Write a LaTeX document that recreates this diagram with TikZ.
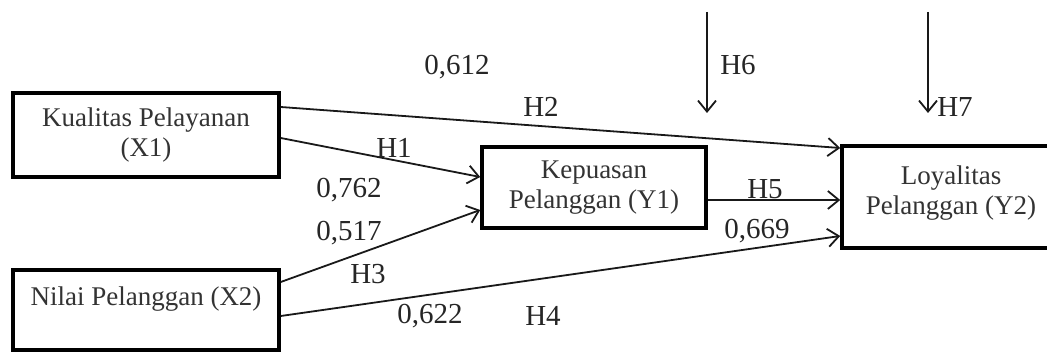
\documentclass[tikz,border=0pt]{standalone}
\usepackage{fontspec}
\setmainfont{Liberation Serif}
\usetikzlibrary{arrows.meta}
\begin{document}
\begin{tikzpicture}[x=1pt,y=1pt,
  box/.style={draw=black, line width=3.5pt, fill=white, inner sep=0pt, align=center,
    font=\fontsize{27}{30}\selectfont, text=black!80},
  arr/.style={draw=black!90, line width=1.8pt, -{Straight Barb[length=11pt,width=18pt,line width=1.8pt]}},
  lab/.style={font=\fontsize{29}{32}\selectfont, text=black!85, inner sep=0pt}]
\useasboundingbox (0,0) rectangle (1047,352);
\fill[white] (0,0) rectangle (1047,352);
% boxes
\node[box, minimum width=266pt, minimum height=84pt] (X1) at (146,217) {Kualitas Pelayanan\\(X1)};
\node[box, minimum width=266pt, minimum height=80pt, text depth=28pt] (X2) at (146,42) {Nilai Pelanggan (X2)};
\node[box, minimum width=224pt, minimum height=81pt] (Y1) at (594,164.5) {Kepuasan\\Pelanggan (Y1)};
\node[box, minimum width=218pt, minimum height=102pt, text depth=14pt] (Y2) at (951,155) {Loyalitas\\Pelanggan (Y2)};
% free ends of the vertical arrows
\coordinate (h6s) at (707,340);
\coordinate (h6e) at (707,239);
\coordinate (h7s) at (928,340);
\coordinate (h7e) at (928,239);
% connectors
\draw[arr] ([yshift=28pt]X1.east) -- ([yshift=49pt]Y2.west);
\draw[arr] ([yshift=-3pt]X1.east) -- ([yshift=10.5pt]Y1.west);
\draw[arr] ([yshift=28pt]X2.east) -- ([yshift=-22.5pt]Y1.west);
\draw[arr] ([yshift=-6pt]X2.east) -- ([yshift=-39pt]Y2.west);
\draw[arr] ([yshift=-12.5pt]Y1.east) -- ([yshift=-3pt]Y2.west);
\draw[arr] (h6s) -- (h6e);
\draw[arr] (h7s) -- (h7e);
% labels
\node[lab] (l612) at (457,285) {0,612};
\node[lab] (lH2) at (541,245) {H2};
\node[lab] (lH1) at (394,204) {H1};
\node[lab] (l762) at (349,162) {0,762};
\node[lab] (l517) at (349,119) {0,517};
\node[lab] (lH3) at (368,78) {H3};
\node[lab] (l622) at (430,36) {0,622};
\node[lab] (lH4) at (543,36) {H4};
\node[lab] (lH5) at (765,163) {H5};
\node[lab] (l669) at (757,121) {0,669};
\node[lab] (lH6) at (738,287) {H6};
\node[lab] (lH7) at (955,245) {H7};
\end{tikzpicture}
\end{document}
